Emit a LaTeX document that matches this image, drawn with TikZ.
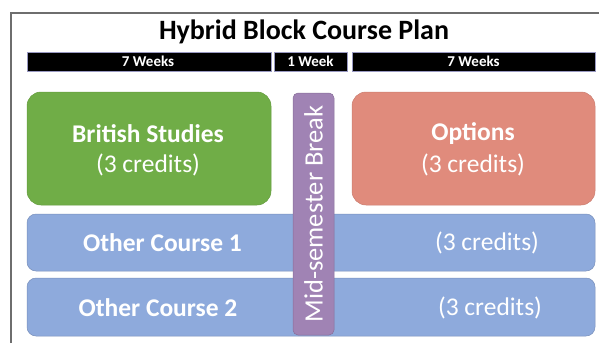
\documentclass[tikz,border=0pt]{standalone}
\usepackage{fontspec}
\setmainfont{Carlito}
\definecolor{frame}{HTML}{6E6E6E}
\definecolor{cgreen}{HTML}{70AD47}
\definecolor{corange}{HTML}{E08B7C}
\definecolor{cblue}{HTML}{8EAADC}
\definecolor{cpurple}{HTML}{A083B4}
\begin{document}
\begin{tikzpicture}[x=1pt,y=1pt,
  bar/.style={fill=black, draw=black!60!blue!40, line width=0.5pt, inner sep=0pt, text=white, font=\fontsize{15}{16}\selectfont\bfseries},
  course/.style={rounded corners=14pt, inner sep=0pt, line width=0.5pt},
  rowbox/.style={rounded corners=9pt, inner sep=0pt, fill=cblue, draw=cblue!85!black, line width=0.5pt},
  lbl/.style={text=white, font=\fontsize{25.5}{28}\selectfont, inner sep=0pt},
  blbl/.style={lbl, font=\fontsize{25.5}{28}\selectfont\bfseries}]
\useasboundingbox (0,0) rectangle (599,-343);
% frame
\coordinate (fbl) at (11,-343);
\coordinate (ftl) at (11,-13);
\coordinate (ftr) at (599,-13);
\draw[frame, line width=1.5pt] (fbl) -- (ftl) -- (ftr);
% title
\node[font=\fontsize{28}{32}\selectfont\bfseries, inner sep=0pt] (title) at (304,-32) {Hybrid Block Course Plan};
% week bars
\path[bar] (27,-52) rectangle (271,-71);
\node[bar, fill=none, draw=none] (w1) at (148,-61.5) {7 Weeks};
\path[bar] (274,-52) rectangle (347,-71);
\node[bar, fill=none, draw=none] (w2) at (310.5,-61.5) {1 Week};
\path[bar] (352,-52) rectangle (595,-71);
\node[bar, fill=none, draw=none] (w3) at (473.5,-61.5) {7 Weeks};
% course boxes
\path[course, fill=cgreen, draw=cgreen!90!black] (27,-92) rectangle (271,-205);
\node[blbl] (bs) at (148,-134) {British Studies};
\node[lbl] (bsc) at (148,-165) {(3 credits)};
\path[course, fill=corange, draw=corange!90!black] (352,-92) rectangle (595,-205);
\node[blbl] (op) at (473,-134) {Options};
\node[lbl] (opc) at (473,-165) {(3 credits)};
% other courses
\path[rowbox] (27,-214) rectangle (595,-271);
\node[blbl] (oc1) at (162.5,-243) {Other Course 1};
\node[lbl] (oc1c) at (487,-243) {(3 credits)};
\path[rowbox] (27,-278) rectangle (595,-336);
\node[blbl] (oc2) at (158,-307.5) {Other Course 2};
\node[lbl] (oc2c) at (490,-307.5) {(3 credits)};
% break bar
\path[rounded corners=5pt, fill=cpurple, draw=cpurple!85!black, line width=0.5pt] (293,-93) rectangle (334,-335);
\node[lbl, rotate=90, font=\fontsize{26.5}{28}\selectfont] (brk) at (313.5,-214) {Mid-semester Break};
\end{tikzpicture}
\end{document}
